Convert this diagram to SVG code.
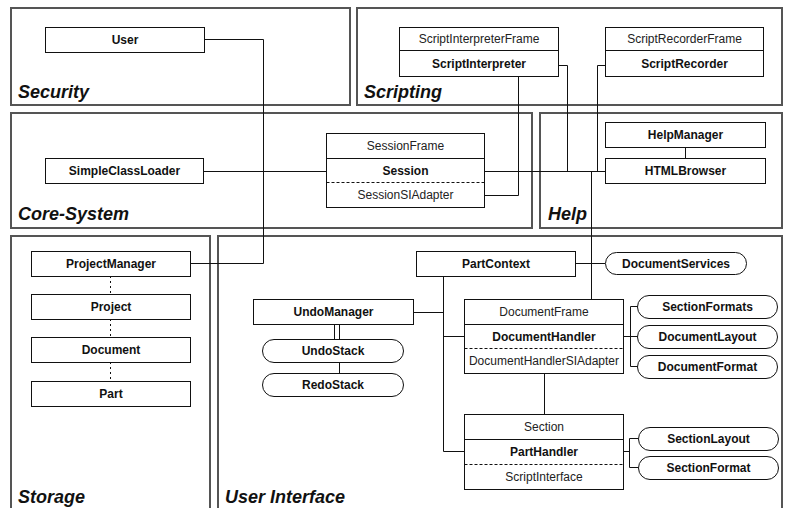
<svg xmlns="http://www.w3.org/2000/svg" width="788" height="508" viewBox="0 0 788 508">
<style>
.panel{fill:none;stroke:#555;stroke-width:2}
.plabel{font-family:"Liberation Sans",Arial,sans-serif;font-size:18px;font-weight:bold;font-style:italic;fill:#111}
.box{fill:#fff;stroke:#111;stroke-width:1}
.div{stroke:#111;stroke-width:1}
.dash{stroke:#111;stroke-width:1;stroke-dasharray:3,2}
.b{font-family:"Liberation Sans",Arial,sans-serif;font-size:12px;font-weight:bold;fill:#111;text-anchor:middle}
.r{font-family:"Liberation Sans",Arial,sans-serif;font-size:12px;fill:#222;text-anchor:middle}
.c{fill:none;stroke:#111;stroke-width:1}
.dot{fill:none;stroke:#111;stroke-width:1;stroke-dasharray:2,3}
</style>
<rect width="788" height="508" fill="#fff"/>
<g id="panels">
<rect class="panel" x="11" y="8" width="339" height="97"/>
<rect class="panel" x="357" y="8" width="425" height="97"/>
<rect class="panel" x="11" y="113" width="521" height="115"/>
<rect class="panel" x="540" y="113" width="242" height="115"/>
<rect class="panel" x="11" y="236" width="199" height="280"/>
<rect class="panel" x="218" y="236" width="564" height="280"/>
<text class="plabel" x="18" y="98">Security</text>
<text class="plabel" x="364" y="98">Scripting</text>
<text class="plabel" x="18" y="220">Core-System</text>
<text class="plabel" x="548" y="220">Help</text>
<text class="plabel" x="18" y="503">Storage</text>
<text class="plabel" x="225" y="503">User Interface</text>
</g>
<g id="connectors">
<polyline class="c" points="205,39.5 263.5,39.5 263.5,263.5 190,263.5"/>
<line class="c" x1="204" y1="171.5" x2="326" y2="171.5"/>
<line class="c" x1="484" y1="171.5" x2="605" y2="171.5"/>
<polyline class="c" points="484,195.5 518.5,195.5 518.5,76"/>
<polyline class="c" points="559,65.5 567.5,65.5 567.5,171.5"/>
<polyline class="c" points="605,65.5 597.5,65.5 597.5,171.5"/>
<line class="c" x1="591.5" y1="171.5" x2="591.5" y2="299"/>
<line class="c" x1="685.5" y1="147" x2="685.5" y2="158"/>
<line class="c" x1="575" y1="263.5" x2="605" y2="263.5"/>
<line class="c" x1="443.5" y1="276" x2="443.5" y2="451.5"/>
<line class="c" x1="413" y1="312.5" x2="443.5" y2="312.5"/>
<line class="c" x1="443.5" y1="336.5" x2="464" y2="336.5"/>
<line class="c" x1="443.5" y1="451.5" x2="464" y2="451.5"/>
<line class="c" x1="544.5" y1="373" x2="544.5" y2="414"/>
<line class="c" x1="334.5" y1="324" x2="334.5" y2="339"/>
<line class="c" x1="339.5" y1="324" x2="339.5" y2="339"/>
<line class="c" x1="339.5" y1="362" x2="339.5" y2="373"/>
<line class="c" x1="623" y1="336.5" x2="630.5" y2="336.5"/>
<polyline class="c" points="638,306.5 630.5,306.5 630.5,366.5 638,366.5"/>
<line class="c" x1="630.5" y1="336.5" x2="638" y2="336.5"/>
<line class="c" x1="623" y1="451.5" x2="629.5" y2="451.5"/>
<polyline class="c" points="638,438.5 629.5,438.5 629.5,467.5 638,467.5"/>
<line class="dot" x1="110.5" y1="276" x2="110.5" y2="294"/>
<line class="dot" x1="110.5" y1="319" x2="110.5" y2="337"/>
<line class="dot" x1="110.5" y1="362" x2="110.5" y2="381"/>
</g>
<g id="User"><rect class="box" x="45.5" y="27.5" width="159" height="25"/><text class="b" x="125" y="44">User</text></g>
<g id="ScriptInterpreter"><rect class="box" x="399.5" y="27.5" width="159" height="49"/><line class="div" x1="399.5" y1="50.5" x2="558.5" y2="50.5"/><text class="r" x="479" y="43">ScriptInterpreterFrame</text><text class="b" x="479" y="68">ScriptInterpreter</text></g>
<g id="ScriptRecorder"><rect class="box" x="605.5" y="27.5" width="158" height="49"/><line class="div" x1="605.5" y1="50.5" x2="763.5" y2="50.5"/><text class="r" x="684.5" y="43">ScriptRecorderFrame</text><text class="b" x="684.5" y="68">ScriptRecorder</text></g>
<g id="SimpleClassLoader"><rect class="box" x="45.5" y="158.5" width="158" height="25"/><text class="b" x="124.5" y="175">SimpleClassLoader</text></g>
<g id="Session"><rect class="box" x="326.5" y="133.5" width="158" height="74"/><line class="div" x1="326.5" y1="158.5" x2="484.5" y2="158.5"/><line class="dash" x1="326.5" y1="182.5" x2="484.5" y2="182.5"/><text class="r" x="405.5" y="150">SessionFrame</text><text class="b" x="405.5" y="175">Session</text><text class="r" x="405.5" y="199">SessionSIAdapter</text></g>
<g id="HelpManager"><rect class="box" x="605.5" y="122.5" width="160" height="25"/><text class="b" x="685.5" y="139">HelpManager</text></g>
<g id="HTMLBrowser"><rect class="box" x="605.5" y="158.5" width="160" height="25"/><text class="b" x="685.5" y="175">HTMLBrowser</text></g>
<g id="ProjectManager"><rect class="box" x="31.5" y="251.5" width="159" height="25"/><text class="b" x="111" y="268">ProjectManager</text></g>
<g id="Project"><rect class="box" x="31.5" y="294.5" width="159" height="25"/><text class="b" x="111" y="311">Project</text></g>
<g id="Document"><rect class="box" x="31.5" y="337.5" width="159" height="25"/><text class="b" x="111" y="354">Document</text></g>
<g id="Part"><rect class="box" x="31.5" y="381.5" width="159" height="25"/><text class="b" x="111" y="398">Part</text></g>
<g id="PartContext"><rect class="box" x="416.5" y="251.5" width="159" height="25"/><text class="b" x="496" y="268">PartContext</text></g>
<g id="DocumentServices"><rect class="box" x="605.5" y="252.5" width="141" height="22" rx="11" ry="11"/><text class="b" x="676" y="268">DocumentServices</text></g>
<g id="UndoManager"><rect class="box" x="253.5" y="299.5" width="160" height="25"/><text class="b" x="333.5" y="316">UndoManager</text></g>
<g id="UndoStack"><rect class="box" x="262.5" y="339.5" width="141" height="23" rx="11.5" ry="11.5"/><text class="b" x="333" y="355">UndoStack</text></g>
<g id="RedoStack"><rect class="box" x="262.5" y="373.5" width="141" height="23" rx="11.5" ry="11.5"/><text class="b" x="333" y="389">RedoStack</text></g>
<g id="DocumentHandler"><rect class="box" x="464.5" y="299.5" width="159" height="74"/><line class="div" x1="464.5" y1="324.5" x2="623.5" y2="324.5"/><line class="dash" x1="464.5" y1="348.5" x2="623.5" y2="348.5"/><text class="r" x="544" y="316">DocumentFrame</text><text class="b" x="544" y="341">DocumentHandler</text><text class="r" x="544" y="365">DocumentHandlerSIAdapter</text></g>
<g id="SectionFormats"><rect class="box" x="637.5" y="295.5" width="140" height="23" rx="11.5" ry="11.5"/><text class="b" x="707.5" y="311">SectionFormats</text></g>
<g id="DocumentLayout"><rect class="box" x="637.5" y="325.5" width="140" height="23" rx="11.5" ry="11.5"/><text class="b" x="707.5" y="341">DocumentLayout</text></g>
<g id="DocumentFormat"><rect class="box" x="637.5" y="355.5" width="140" height="23" rx="11.5" ry="11.5"/><text class="b" x="707.5" y="371">DocumentFormat</text></g>
<g id="PartHandler"><rect class="box" x="464.5" y="414.5" width="159" height="75"/><line class="div" x1="464.5" y1="439.5" x2="623.5" y2="439.5"/><line class="dash" x1="464.5" y1="464.5" x2="623.5" y2="464.5"/><text class="r" x="544" y="431">Section</text><text class="b" x="544" y="456">PartHandler</text><text class="r" x="544" y="481">ScriptInterface</text></g>
<g id="SectionLayout"><rect class="box" x="638.5" y="427.5" width="140" height="23" rx="11.5" ry="11.5"/><text class="b" x="708.5" y="443">SectionLayout</text></g>
<g id="SectionFormat"><rect class="box" x="638.5" y="456.5" width="140" height="23" rx="11.5" ry="11.5"/><text class="b" x="708.5" y="472">SectionFormat</text></g>
</svg>
